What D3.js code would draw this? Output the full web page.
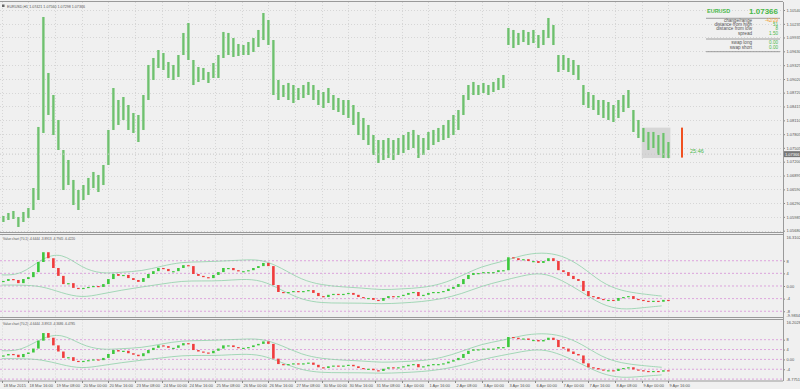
<!DOCTYPE html>
<html><head><meta charset="utf-8">
<script src="https://cdn.jsdelivr.net/npm/d3@7"></script>
<style>body{margin:0;background:#f0f0f0}svg{display:block}text{font-family:"Liberation Sans",Arial,sans-serif}</style>
</head><body><svg id="c" width="800" height="389"></svg>
<script>
// ---------- DATA ----------
const timeLabels = ["18 Mar 2015","18 Mar 16:00","19 Mar 08:00","20 Mar 00:00","20 Mar 16:00","23 Mar 08:00","24 Mar 00:00","24 Mar 16:00","25 Mar 08:00","26 Mar 00:00","26 Mar 16:00","27 Mar 08:00","30 Mar 00:00","30 Mar 16:00","31 Mar 08:00","1 Apr 00:00","1 Apr 16:00","2 Apr 08:00","3 Apr 00:00","3 Apr 16:00","6 Apr 00:00","7 Apr 00:00","7 Apr 16:00","8 Apr 08:00","9 Apr 00:00","9 Apr 16:00"];
const priceTicks = [1.10540,1.10235,1.09935,1.09630,1.09325,1.09020,1.08720,1.08415,1.08110,1.07805,1.07505,1.07200,1.06895,1.06590,1.06290,1.05985,1.05680];
// main EURUSD bars, one per 3 hours (high / low, pixel-read)
const mainHiY = [216,213,211,217,212,208,188,127,17,73,95,120,150,160,180,190,185,178,172,175,165,130,88,100,97,105,113,115,95,65,58,50,53,62,65,55,33,23,60,67,68,72,63,55,32,33,38,44,45,42,38,30,13,20,40,80,85,83,85,88,85,82,85,90,92,88,95,98,100,100,105,112,118,125,135,140,140,138,140,138,135,132,130,135,138,132,130,128,125,120,115,110,95,85,82,85,83,85,82,78,75,28,30,33,30,32,30,35,30,18,25,55,55,58,60,65,85,92,95,100,100,102,105,100,95,90,110,120,128,132,132,135,133,142];
const mainLoY = [222,220,219,227,222,218,210,200,133,115,135,150,190,185,205,210,200,195,188,192,185,165,130,125,120,130,133,142,130,100,80,68,70,78,80,77,55,60,85,82,80,83,78,78,58,55,57,56,55,55,52,47,40,45,95,100,97,100,103,100,98,95,100,105,108,103,110,112,115,118,125,135,140,145,155,163,160,158,160,155,153,150,148,158,155,150,145,142,140,138,135,130,115,100,95,95,93,95,92,90,88,45,48,45,42,45,43,48,45,38,45,72,70,72,75,80,105,108,110,115,118,120,122,118,112,108,132,138,142,150,148,155,158,158];
const yPx = y => +(1.10540 - (y - 10) * 0.0002202).toFixed(5);
const mainHigh = mainHiY.map(yPx), mainLow = mainLoY.map(yPx);
// value chart closes, one per 3 hours
const valClose = [1.6,2.2,1.9,0.9,2.2,2.8,4.4,7.6,10.7,8.8,5.7,3.2,0.6,0.9,-0.6,-0.9,-0.6,-0.3,0,-0.3,0.6,2.2,3.8,3.2,3.5,2.5,1.9,1.3,2.5,3.8,4.7,5.7,5.4,4.7,4.7,5.7,6.6,6.3,3.8,3.2,2.8,2.5,3.5,4.4,5.7,5.7,5,4.7,4.7,5,5.7,6.3,7.3,6.3,0.3,-1.9,-2.2,-1.9,-1.6,-1.9,-1.6,-1.3,-2.2,-3.2,-3.5,-2.8,-2.5,-2.8,-2.5,-2.2,-2.8,-3.5,-3.8,-3.8,-4.4,-4.7,-3.8,-3.2,-3.5,-3.2,-2.8,-2.2,-1.9,-3.2,-2.8,-2.2,-1.9,-1.9,-1.6,-0.9,-0.3,0.6,2.2,3.5,4.1,4.1,4.4,4.4,4.4,5,5,9.1,8.8,8.2,8.5,7.9,7.9,7.3,7.9,8.8,7.9,5,4.4,3.2,2.2,1.6,-1.6,-3.2,-3.5,-4.1,-4.4,-4.4,-4.7,-3.8,-3.5,-3.2,-4.1,-4.4,-4.7,-5,-4.7,-5,-4.4,-4.7];
// envelope bands, one per 12 hours
const bandUpper = [3.5,3.5,8.8,10.7,5.7,3.8,4.4,4.7,6.3,7.6,7.6,7.9,8.2,8.5,5.7,1.9,0.3,-0.3,-0.6,-1.3,-0.9,-0.6,0.6,3.2,6.3,7.6,9.8,10.7,9.8,6.3,0.9,-1.6,-2.5,-3.2];
const bandLower = [0.3,0.3,0,-2.2,-3.8,-2.5,-1.3,-0.3,0.6,1.6,1.6,1.6,2.2,1.9,-1.3,-4.4,-5.4,-5.4,-5.4,-5.7,-5.4,-5.0,-4.1,-2.5,0,1.6,3.2,4.4,1.9,-1.9,-6.0,-7.6,-6.9,-6.3];
const levels = [8,4,0,-4,-8];
const info = [["change/range","-42/29","#f0a030"],["distance from high","51","#4ab84a"],["distance from low","8","#4ab84a"],["spread","1.50","#4ab84a"]];
const swaps = [["swap long","0.00"],["swap short","0.00"]];

// ---------- DRAW ----------
const svg = d3.select("#c");
const W = 800, H = 389, R = 783;
const FS = 4;
const x = d3.scaleLinear().domain([0, 400]).range([1.7, 668.4]);
const hourOf = i => 3 * i + 1;
svg.append("rect").attr("width", W).attr("height", H).attr("fill", "#f0f0f0");

const panels = [
  {top: 2, bot: 232.5},
  {top: 234.5, bot: 317.5, y: d3.scaleLinear().domain([-9.9834, 16.3102]).range([317.5, 234.5]), name: "Value chart (70,1) -4.6444 -3.8913 -4.7945 -6.4220", lo: "-9.9834", hi: "16.3102", lv: levels},
  {top: 319.5, bot: 381, y: d3.scaleLinear().domain([-8.7751, 16.2028]).range([381, 319.5]), name: "Value chart (70,2) -4.6444 -3.8913 -4.3686 -6.4785", lo: "-8.7751", hi: "16.2028", lv: levels.slice(0, 4)}
];
const yMain = d3.scaleLinear().domain([1.05680, 1.10540]).range([230.7, 10]);

// vertical grid
const gridX = d3.range(timeLabels.length).map(k => Math.round(x(16 * k)) + 0.5);
panels.forEach(p => {
  svg.append("g").selectAll("line").data(gridX).join("line")
    .attr("x1", d => d).attr("x2", d => d).attr("y1", p.top).attr("y2", p.bot)
    .attr("stroke", "#cfcfcf").attr("stroke-dasharray", "1,2").attr("stroke-width", 0.8);
});
// main horizontal grid
svg.append("g").selectAll("line").data(priceTicks).join("line")
  .attr("x1", 0).attr("x2", R).attr("y1", d => Math.round(yMain(d)) + 0.5).attr("y2", d => Math.round(yMain(d)) + 0.5)
  .attr("stroke", "#cfcfcf").attr("stroke-dasharray", "1,2").attr("stroke-width", 0.8);

// right axis main
const ax = svg.append("g").attr("transform", `translate(${R},0)`)
  .call(d3.axisRight(yMain).tickValues(priceTicks).tickFormat(d3.format(".5f")).tickSize(2));
ax.select(".domain").remove();
ax.selectAll("text").attr("font-size", FS).attr("fill", "#555").attr("x", 3.5);
ax.selectAll("line").attr("stroke", "#888");

// gray box region and main bars
svg.append("rect").attr("x", x(384)).attr("y", yMain(1.07950)).attr("width", x(400) - x(384) + 2).attr("height", yMain(1.07280) - yMain(1.07950)).attr("fill", "#d6d6d6");
const gMain = svg.append("g");
mainHigh.forEach((h, i) => {
  const cx = x(hourOf(i));
  gMain.append("rect").attr("x", cx - 1.4).attr("width", 2.8).attr("y", yMain(h)).attr("height", Math.max(1, yMain(mainLow[i]) - yMain(h)))
    .attr("fill", "#8fd08f");
  gMain.append("line").attr("x1", cx).attr("x2", cx).attr("y1", yMain(h)).attr("y2", yMain(mainLow[i]))
    .attr("stroke", "#62b862").attr("stroke-width", 0.8);
});
// current price line & label
const cur = 1.07366;
svg.append("line").attr("x1", 0).attr("x2", R).attr("y1", yMain(cur)).attr("y2", yMain(cur)).attr("stroke", "#c8c8c8").attr("stroke-dasharray", "1,2");
svg.append("rect").attr("x", R + 1).attr("y", yMain(cur) - 3).attr("width", 16).attr("height", 6).attr("fill", "#777");
svg.append("text").attr("x", R + 2).attr("y", yMain(cur) + 1.5).attr("font-size", FS).attr("fill", "#fff").text("1.07366");
// timer bar
svg.append("rect").attr("x", 681).attr("y", yMain(1.07950)).attr("width", 2).attr("height", yMain(1.07290) - yMain(1.07950)).attr("fill", "#f05020");
svg.append("text").attr("x", 690).attr("y", yMain(cur) - 1).attr("font-size", 5.5).attr("fill", "#4ab84a").text("25:46");

// title
svg.append("rect").attr("x", 2).attr("y", 4.5).attr("width", 2.5).attr("height", 2.5).attr("fill", "#666");
svg.append("text").attr("x", 7).attr("y", 8).attr("font-size", FS).attr("fill", "#555")
  .attr("textLength", 78).attr("lengthAdjust", "spacingAndGlyphs").text("EURUSD,H1  1.07421  1.07560  1.07298  1.07366");

// info panel
svg.append("text").attr("x", 707).attr("y", 12.5).attr("font-size", 5.5).attr("font-weight", "bold").attr("fill", "#4ab84a").text("EURUSD");
svg.append("text").attr("x", 778).attr("y", 13.5).attr("text-anchor", "end").attr("font-size", 8).attr("font-weight", "bold").attr("fill", "#4ab84a").text("1.07366");
[18.3, 39, 51.7].forEach(yy => svg.append("line").attr("x1", 706).attr("x2", 780).attr("y1", yy).attr("y2", yy).attr("stroke", "#888").attr("stroke-width", 0.8));
info.forEach((r, k) => {
  const yy = 21.8 + k * 4.3;
  svg.append("text").attr("x", 752).attr("y", yy).attr("text-anchor", "end").attr("font-size", 4.6).attr("fill", "#555").text(r[0]);
  svg.append("text").attr("x", 778).attr("y", yy).attr("text-anchor", "end").attr("font-size", 4.6).attr("fill", r[2]).text(r[1]);
});
swaps.forEach((r, k) => {
  const yy = 44.3 + k * 4.3;
  svg.append("text").attr("x", 752).attr("y", yy).attr("text-anchor", "end").attr("font-size", 4.6).attr("fill", "#555").text(r[0]);
  svg.append("text").attr("x", 778).attr("y", yy).attr("text-anchor", "end").attr("font-size", 4.6).attr("fill", "#4ab84a").text(r[1]);
});

// sub panels
panels.slice(1).forEach(p => {
  const g = svg.append("g");
  g.selectAll("line.lv").data(levels).join("line")
    .attr("x1", 0).attr("x2", R).attr("y1", d => p.y(d)).attr("y2", d => p.y(d))
    .attr("stroke", "#d890d8").attr("stroke-dasharray", "2,2").attr("stroke-width", 0.8);
  const bandLine = d3.line().x((d, k) => x(12 * k)).y(d => p.y(d)).curve(d3.curveBasis);
  g.append("path").attr("d", bandLine(bandUpper)).attr("fill", "none").attr("stroke", "#8fd0a8").attr("stroke-width", 0.8);
  g.append("path").attr("d", bandLine(bandLower)).attr("fill", "none").attr("stroke", "#8fd0a8").attr("stroke-width", 0.8);
  valClose.forEach((c, i) => {
    const o = i ? valClose[i - 1] : c;
    const cx = x(hourOf(i));
    const up = c >= o;
    g.append("rect").attr("x", cx - 1.3).attr("width", 2.6)
      .attr("y", p.y(Math.max(o, c))).attr("height", Math.max(1.2, Math.abs(p.y(o) - p.y(c))))
      .attr("fill", up ? "#3cc83c" : "#f03c3c");
  });
  const a = g.append("g").attr("transform", `translate(${R},0)`)
    .call(d3.axisRight(p.y).tickValues(p.lv).tickFormat(d => d === 0 ? "0.00" : d).tickSize(2));
  a.select(".domain").remove();
  a.selectAll("text").attr("font-size", FS).attr("fill", "#555").attr("x", 3.5);
  a.selectAll("line").attr("stroke", "#888");
  g.append("text").attr("x", R + 3.5).attr("y", p.top + 4).attr("font-size", FS).attr("fill", "#555").text(p.hi);
  g.append("text").attr("x", R + 3.5).attr("y", p.bot - 0.5).attr("font-size", FS).attr("fill", "#555").text(p.lo);
  g.append("text").attr("x", 3).attr("y", p.top + 5).attr("font-size", FS).attr("fill", "#555")
    .attr("textLength", 72).attr("lengthAdjust", "spacingAndGlyphs").text(p.name);
});

// panel borders
[232.5, 234.5, 317.5, 319.5, 381].forEach(yy => svg.append("line").attr("x1", 0).attr("x2", R).attr("y1", yy).attr("y2", yy).attr("stroke", "#9a9a9a"));
svg.append("line").attr("x1", R + 0.5).attr("x2", R + 0.5).attr("y1", 2).attr("y2", 381).attr("stroke", "#9a9a9a");
svg.append("line").attr("x1", 0).attr("x2", R).attr("y1", 1.5).attr("y2", 1.5).attr("stroke", "#9a9a9a");

// time axis
const tg = svg.append("g");
timeLabels.forEach((t, k) => {
  const tx = Math.round(x(16 * k)) + 0.5;
  tg.append("line").attr("x1", tx).attr("x2", tx).attr("y1", 381).attr("y2", 383).attr("stroke", "#888");
  tg.append("text").attr("x", tx + 1).attr("y", 386.5).attr("font-size", FS).attr("fill", "#555").text(t);
});
</script></body></html>
